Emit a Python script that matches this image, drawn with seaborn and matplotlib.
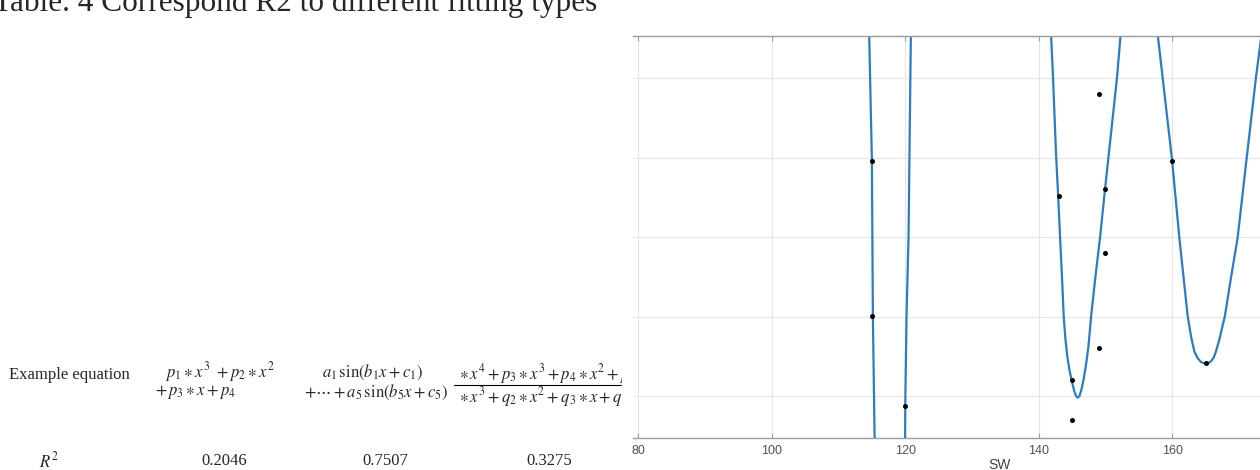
import matplotlib
matplotlib.use('Agg')
import matplotlib.pyplot as plt
import seaborn as sns
import pandas as pd
from matplotlib.patches import Rectangle
from matplotlib.lines import Line2D

# fitted curve, split where it leaves the axes
curve_seg = [0, 0, 0, 0,
             1, 1, 1, 1, 1, 1,
             2, 2, 2, 2, 2, 2, 2, 2, 2, 2, 2, 2, 2, 2, 2, 2, 2, 2, 2, 2, 2, 2, 2, 2, 2, 2,
             3, 3, 3, 3, 3, 3, 3, 3, 3, 3, 3, 3, 3, 3, 3, 3, 3, 3, 3, 3, 3, 3]
curve_x = [114.58, 115.0, 115.15, 115.42,
           119.98, 120.0, 120.19, 120.49, 120.84, 120.86,
           141.85, 142.15, 142.6, 142.92, 143.2, 143.5, 143.75, 144.0, 144.3, 144.65, 145.0,
           145.3, 145.6, 145.84, 146.1, 146.4, 146.75, 147.1, 147.45, 147.85, 148.5, 149.2,
           149.95, 150.5, 151.73, 152.28,
           157.83, 158.58, 159.97, 161.08, 162.32, 162.85, 163.33, 163.8, 164.3, 164.7,
           165.06, 165.45, 165.85, 166.25, 166.56, 167.1, 167.91, 168.8, 169.81, 171.15,
           172.55, 173.4]
curve_y = [5.6, 3.96, 2.0, 0.4,
           0.4, 0.88, 2.0, 3.0, 5.53, 5.6,
           5.55, 5.0, 4.04, 3.51, 3.0, 2.48, 2.0, 1.72, 1.49, 1.31, 1.18,
           1.07, 1.0, 0.98, 1.0, 1.08, 1.22, 1.4, 1.62, 2.0, 2.5, 3.0,
           3.61, 4.04, 5.0, 5.55,
           5.55, 5.0, 3.98, 2.99, 2.01, 1.74, 1.56, 1.48, 1.43, 1.415,
           1.41, 1.415, 1.44, 1.49, 1.56, 1.72, 2.01, 2.48, 2.99, 3.98,
           5.0, 5.55]

# measured points
pt_x = [115, 115, 120, 143, 145, 145, 149, 149, 150, 150, 160, 165]
pt_y = [3.96, 2.01, 0.88, 3.51, 1.20, 0.70, 4.80, 1.60, 3.61, 2.80, 3.96, 1.41]

x_ticks = [80, 100, 120, 140, 160, 180]
y_grid = [1, 2, 3, 4, 5]

# table fragment on the left
title_text = 'Table. 4 Correspond R2 to different fitting types'
row_label = 'Example equation'
poly_lines = [r'$p_1 \ast x^3\ + p_2 \ast x^2$', r'$+\, p_3 \ast x + p_4$']
sine_lines = [r'$a_1\,\sin(b_1 x + c_1)$', r'$+ \cdots + a_5\,\sin(b_5 x + c_5)$']
rat_num = r'$\ast\, x^4 + p_3 \ast x^3 + p_4 \ast x^2 + p_5$'
rat_den = r'$\ast\, x^3 + q_2 \ast x^2 + q_3 \ast x + q_4$'
r2_label = r'$R^2$'
r2_values = ['0.2046', '0.7507', '0.3275']
r2_pos = [224, 385, 549]

sns.set_style('white')
plt.rcParams['font.family'] = ['Liberation Sans', 'DejaVu Sans']
plt.rcParams['mathtext.fontset'] = 'stix'

W, H = 1260, 470
fig = plt.figure(figsize=(W / 100, H / 100), dpi=100)
fig.patch.set_facecolor('white')

ax = fig.add_axes([633 / W, 1 - 437.7 / H, 734 / W, (437.7 - 36) / H])

curve_df = pd.DataFrame({'seg': curve_seg, 'SW': curve_x, 'y': curve_y})
sns.lineplot(data=curve_df, x='SW', y='y', units='seg', estimator=None, sort=False,
             color='#2b7cc4', linewidth=1.6, ax=ax, zorder=2)
sns.scatterplot(x=pt_x, y=pt_y, color='black', s=13, linewidth=0, ax=ax, zorder=3)

ax.set_xlim(79.2, 189.2)
ax.set_ylim(0.477, 5.528)
ax.set_xticks(x_ticks)
ax.set_yticks(y_grid)
ax.grid(True, color='#e6e6e6', linewidth=0.8)
ax.set_axisbelow(True)
for side in ['left', 'right']:
    ax.spines[side].set_visible(False)
for side in ['top', 'bottom']:
    ax.spines[side].set_color('#9c9c9c')
    ax.spines[side].set_linewidth(1.0)
ax.tick_params(axis='x', direction='in', top=True, bottom=True, length=3.5, width=0.8,
               color='#9c9c9c', labelsize=9, labelcolor='#505050', pad=5)
ax.tick_params(axis='y', left=False, right=False, labelleft=False)
ax.set_xlabel('SW', fontsize=10, color='#404040', labelpad=1)
ax.set_ylabel('')

serif = ['Liberation Serif', 'DejaVu Serif']

def fy(py):
    return 1 - py / H

fig.text(-7 / W, fy(11), title_text, fontsize=22.5, family=serif, va='baseline', ha='left')
fig.text(9 / W, fy(375), row_label, fontsize=12, family=serif, va='center', ha='left')
fig.text(165 / W, fy(372), poly_lines[0], fontsize=12, va='center', ha='left')
fig.text(155 / W, fy(392), poly_lines[1], fontsize=12, va='center', ha='left')
fig.text(322 / W, fy(372), sine_lines[0], fontsize=12, va='center', ha='left')
fig.text(304 / W, fy(392), sine_lines[1], fontsize=12, va='center', ha='left')
fig.text(459 / W, fy(374), rat_num, fontsize=12, va='center', ha='left')
fig.text(459 / W, fy(397), rat_den, fontsize=12, va='center', ha='left')
fig.add_artist(Line2D([454 / W, 621 / W], [fy(385), fy(385)], color='black', linewidth=0.8))
fig.add_artist(Rectangle((622 / W, fy(420)), 11 / W, 60 / H, color='white', zorder=10))

fig.text(49 / W, fy(460), r2_label, fontsize=12, va='center', ha='center')
for val, px in zip(r2_values, r2_pos):
    fig.text(px / W, fy(461), val, fontsize=12, family=serif, va='center', ha='center')

fig.savefig('out.png', dpi=100, facecolor='white')
